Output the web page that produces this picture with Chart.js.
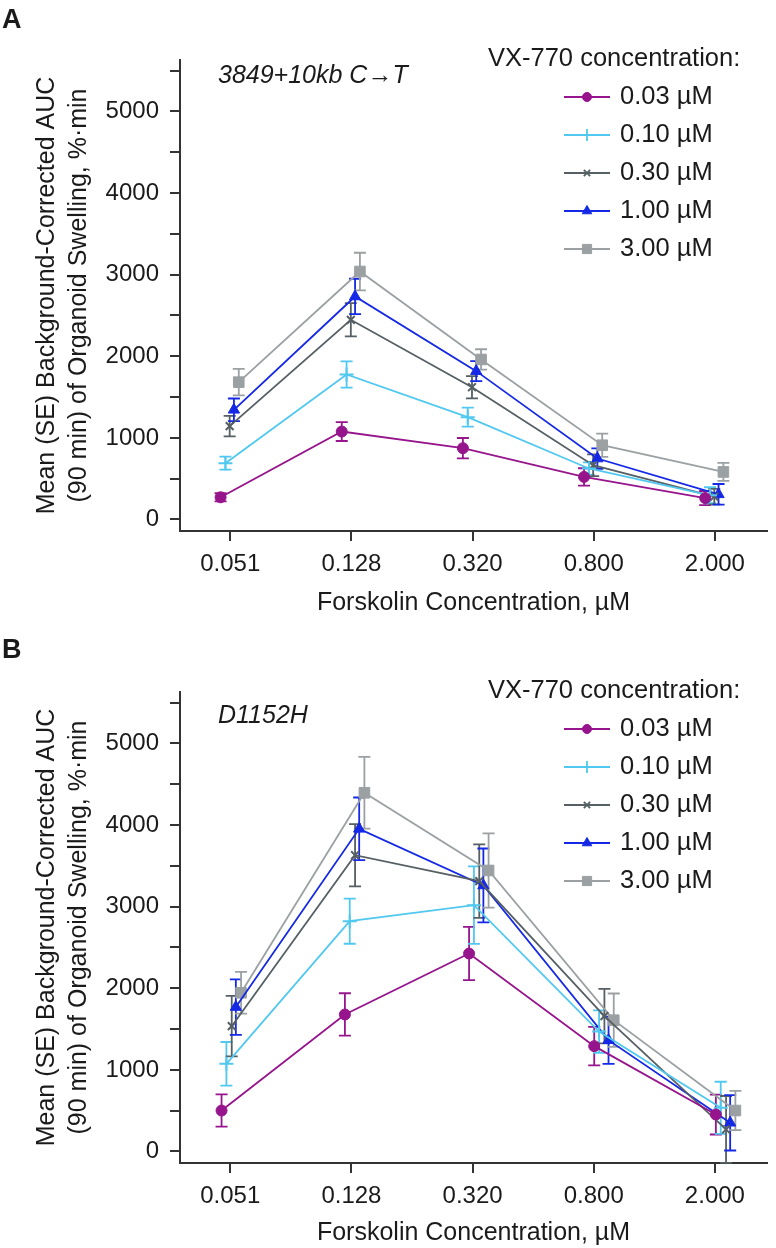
<!DOCTYPE html>
<html>
<head>
<meta charset="utf-8">
<script src="https://cdn.jsdelivr.net/npm/chart.js@4.4.0/dist/chart.umd.min.js"></script>
<style>
  body { margin: 0; background: #fff; }
  .panel { position: absolute; left: 0; width: 776px; }
</style>
</head>
<body>
<div class="panel" style="top:0"><canvas id="chartA" width="776" height="632"></canvas></div>
<div class="panel" style="top:632px"><canvas id="chartB" width="776" height="616"></canvas></div>
<script>
// forskolin doses on the x axis, VX-770 doses as series
const forskolin = ['0.051', '0.128', '0.320', '0.800', '2.000']
const vx770 = ['0.03 µM', '0.10 µM', '0.30 µM', '1.00 µM', '3.00 µM']
const yTicks = [0, 500, 1000, 1500, 2000, 2500, 3000, 3500, 4000, 4500, 5000, 5500]

// panel A: 3849+10kb C->T, mean AUC
const meanA003 = [272, 1078, 874, 522, 262]
const meanA010 = [690, 1777, 1254, 625, 297]
const meanA030 = [1144, 2447, 1621, 665, 281]
const meanA100 = [1344, 2733, 1818, 747, 308]
const meanA300 = [1683, 3039, 1961, 910, 583]
// panel A: SE
const seA003 = [50, 116, 125, 106, 87]
const seA010 = [80, 160, 116, 75, 98]
const seA030 = [126, 204, 137, 133, 95]
const seA100 = [139, 217, 122, 125, 127]
const seA300 = [163, 230, 125, 143, 110]

// panel B: D1152H, mean AUC
const meanB003 = [502, 1679, 2426, 1291, 453]
const meanB010 = [1074, 2822, 3019, 1470, 535]
const meanB030 = [1536, 3631, 3313, 1659, 270]
const meanB100 = [1770, 3954, 3260, 1364, 352]
const meanB300 = [1945, 4396, 3444, 1609, 502]
// panel B: SE
const seB003 = [198, 260, 327, 235, 245]
const seB010 = [268, 276, 474, 260, 320]
const seB030 = [370, 382, 450, 333, 410]
const seB100 = [340, 384, 453, 290, 340]
const seB300 = [255, 440, 455, 327, 240]

// horizontal dodge of the series (in category units)
const dodgeA = [-0.08, -0.04, -0.005, 0.03, 0.07]
const shiftA = [0, 0, 0, 0, 0]
const dodgeB = [-0.081, -0.041, 0.003, 0.037, 0.08]
const shiftB = [0.009, 0.027, 0.052, 0.085, 0.089]

const fam = '"Liberation Sans", Arial, Helvetica, sans-serif'
const ink = '#1a1a1a'
const colors = ['#96148c', '#50c8f0', '#555f64', '#1428e6', '#9ba0a3']
const styles = ['circle', 'cross', 'crossRot', 'triangle', 'rect']
const radii = [5.5, 7, 5.5, 6.5, 7.5]

const errorBars = {
  id: 'errorBars',
  beforeDatasetsDraw(chart) {
    const { ctx, scales: { x, y } } = chart
    chart.data.datasets.forEach(ds => {
      ctx.save()
      ctx.strokeStyle = ds.borderColor
      ctx.lineWidth = 1.8
      ds.data.forEach((p, i) => {
        const px = x.getPixelForValue(p.x)
        const top = y.getPixelForValue(p.y + ds.se[i])
        const bot = y.getPixelForValue(p.y - ds.se[i])
        ctx.beginPath()
        ctx.moveTo(px, top); ctx.lineTo(px, bot)
        ctx.moveTo(px - 6, top); ctx.lineTo(px + 6, top)
        ctx.moveTo(px - 6, bot); ctx.lineTo(px + 6, bot)
        ctx.stroke()
      })
      ctx.restore()
    })
  }
}

const overlay = {
  id: 'overlay',
  afterDraw(chart, args, o) {
    const ctx = chart.ctx
    ctx.save()
    ctx.fillStyle = ink
    ctx.textBaseline = 'middle'
    ctx.textAlign = 'left'
    ctx.font = 'bold 27px ' + fam
    ctx.fillText(o.panel, 2, o.panelY)
    ctx.font = 'italic 25px ' + fam
    ctx.fillText(o.note, 218, o.noteY)
    ctx.font = '25.5px ' + fam
    ctx.fillText('VX-770 concentration:', 488, 59)
    vx770.forEach((lab, s) => {
      const yy = 97 + s * 38
      ctx.strokeStyle = colors[s]
      ctx.fillStyle = colors[s]
      ctx.lineWidth = 1.8
      ctx.beginPath(); ctx.moveTo(564, yy); ctx.lineTo(610, yy); ctx.stroke()
      ctx.lineWidth = (styles[s] === 'cross' || styles[s] === 'crossRot') ? 1.8 : 1
      Chart.helpers.drawPoint(ctx, { pointStyle: styles[s], radius: radii[s] - 1, rotation: 0, borderWidth: 1 }, 587, yy)
      ctx.fillStyle = ink
      ctx.fillText(lab, 620, yy)
    })
    ctx.restore()
  }
}

function makeChart(id, means, ses, dodge, shift, h, xTitlePad, note, noteY, panel, panelY) {
  const datasets = means.map((m, s) => ({
    label: vx770[s],
    data: m.map((v, i) => ({ x: i + shift[i] + dodge[s], y: v })),
    se: ses[s],
    borderColor: colors[s],
    backgroundColor: colors[s],
    borderWidth: 1.8,
    pointStyle: styles[s],
    pointRadius: radii[s],
    pointBorderWidth: (styles[s] === 'cross' || styles[s] === 'crossRot') ? 2 : 1,
    tension: 0
  }))

  return new Chart(document.getElementById(id), {
    type: 'line',
    data: { datasets },
    plugins: [errorBars, overlay],
    options: {
      responsive: false,
      animation: false,
      events: [],
      layout: { padding: { top: 60, right: 1, left: 0, bottom: 0 } },
      plugins: {
        legend: { display: false },
        tooltip: { enabled: false },
        overlay: { note, noteY, panel, panelY }
      },
      scales: {
        x: {
          type: 'linear',
          min: -0.415,
          max: 4.43,
          afterBuildTicks: sc => { sc.ticks = forskolin.map((_, i) => ({ value: i })) },
          afterFit: sc => { sc.height = h - 531 },
          ticks: {
            callback: v => forskolin[v],
            font: { size: 24, family: fam },
            color: ink,
            padding: 9,
            maxRotation: 0,
            autoSkip: false
          },
          grid: { drawOnChartArea: false, drawTicks: true, tickLength: 10, color: '#333', lineWidth: 2 },
          border: { display: true, color: '#333', width: 2 },
          title: {
            display: true,
            text: 'Forskolin Concentration, µM',
            color: ink,
            font: { size: 25, family: fam, lineHeight: 1.2 },
            padding: { top: 0, bottom: xTitlePad }
          }
        },
        y: {
          type: 'linear',
          min: -141,
          max: 5631,
          afterBuildTicks: sc => { sc.ticks = yTicks.map(v => ({ value: v })) },
          afterFit: sc => { sc.width = 180 },
          ticks: {
            callback: v => (v % 1000 === 0 ? String(v) : ''),
            font: { size: 24, family: fam },
            color: ink,
            padding: 11
          },
          grid: { drawOnChartArea: false, drawTicks: true, tickLength: 10, color: '#333', lineWidth: 2 },
          border: { display: true, color: '#333', width: 2 },
          title: {
            display: true,
            text: ['Mean (SE) Background-Corrected AUC', '(90 min) of Organoid Swelling, %·min'],
            color: ink,
            font: { size: 25, family: fam, lineHeight: 1.28 },
            padding: { top: 31, bottom: 0 }
          }
        }
      }
    }
  })
}

makeChart('chartA',
  [meanA003, meanA010, meanA030, meanA100, meanA300],
  [seA003, seA010, seA030, seA100, seA300],
  dodgeA, shiftA, 632, 14, '3849+10kb C→T', 76, 'A', 21)

makeChart('chartB',
  [meanB003, meanB010, meanB030, meanB100, meanB300],
  [seB003, seB010, seB030, seB100, seB300],
  dodgeB, shiftB, 616, 0, 'D1152H', 84, 'B', 19)
</script>
</body>
</html>
